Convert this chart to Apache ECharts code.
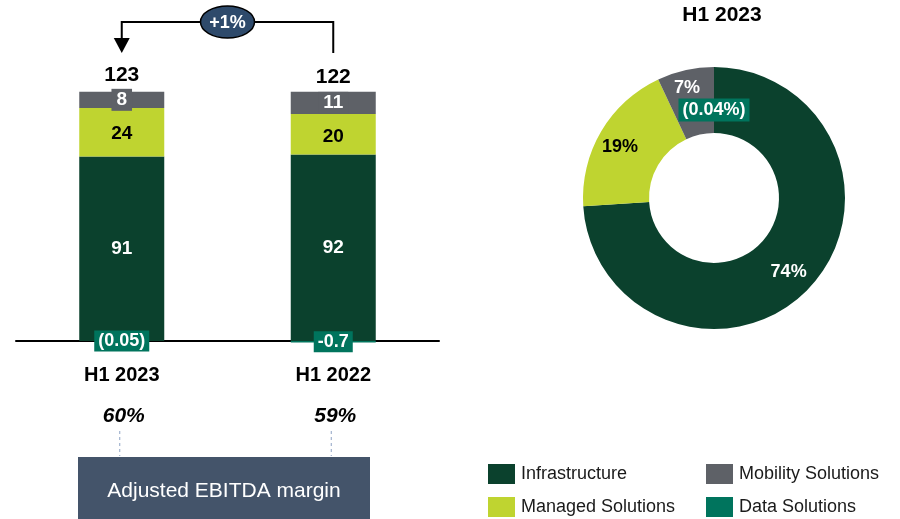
<!DOCTYPE html>
<html>
<head>
<meta charset="utf-8">
<script src="https://cdn.jsdelivr.net/npm/echarts@6/dist/echarts.min.js"></script>
<style>
  html, body { margin: 0; padding: 0; background: #fff; }
  #chart { width: 900px; height: 519px; }
</style>
</head>
<body>
<div id="chart"></div>
<script>
/* EBITDA by segment: stacked bars (H1 2023 vs H1 2022) + H1 2023 mix donut */
const periods      = ["H1 2023", "H1 2022"];
const infra        = [91, 92];
const managed      = [24, 20];
const mobility     = [8, 11];
const dataSol      = [-0.05, -0.7];
const dataLabels   = ["(0.05)", "-0.7"];
const totals       = [123, 122];
const margins      = ["60%", "59%"];
const growthLabel  = "+1%";

const segments     = ["Infrastructure", "Managed Solutions", "Mobility Solutions", "Data Solutions"];
const mixShare     = [74, 19, 7, 0];
const mixLabels    = ["74%", "19%", "7%", "(0.04%)"];

const C = {
  infra: "#0b412d", managed: "#bfd430", mobility: "#5e6167", data: "#00745d",
  ink: "#000", navy: "#44546a", oval: "#2e4a6b", dash: "#8ea3c4",
};
const FONT = "'Liberation Sans', Arial, sans-serif";

const chart = echarts.init(document.getElementById("chart"), null, { renderer: "canvas" });

const segLabel = (color, extra) => Object.assign({
  show: true, position: "inside", color, fontFamily: FONT, fontSize: 19, fontWeight: "bold",
}, extra || {});

// one legend per slot so the 2x2 grid matches the reference
const legendSlots = [[483, 459], [483, 492], [701, 459], [701, 492]];
const legends = segments.map((s, i) => ({
  left: legendSlots[i][0], top: legendSlots[i][1], itemWidth: 27, itemHeight: 20,
  icon: "rect", selectedMode: false, data: [s],
  textStyle: { fontFamily: FONT, fontSize: 18, color: "#1a1a1a", padding: [0, 0, 0, 1] },
}));

chart.setOption({
  animation: false,
  textStyle: { fontFamily: FONT },
  title: {
    text: "H1 2023", left: 717, top: 0, textAlign: "center",
    textStyle: { fontFamily: FONT, fontSize: 21, fontWeight: "bold", color: C.ink },
  },
  grid: { left: 16, width: 423, top: 37, bottom: 176 },
  xAxis: {
    type: "category", data: periods,
    axisLine: { onZero: true, lineStyle: { color: C.ink, width: 2 } },
    axisTick: { show: false },
    axisLabel: { margin: 22, color: C.ink, fontFamily: FONT, fontSize: 20, fontWeight: "bold" },
  },
  yAxis: { type: "value", min: -1, max: 150, show: false, splitLine: { show: false } },
  legend: legends,
  series: [
    { name: segments[0], type: "bar", stack: "ebitda", barWidth: 85, data: infra,
      itemStyle: { color: C.infra }, label: segLabel("#fff") },
    { name: segments[1], type: "bar", stack: "ebitda", data: managed,
      itemStyle: { color: C.managed }, label: segLabel(C.ink, { offset: [0, 2] }) },
    { name: segments[2], type: "bar", stack: "ebitda", data: mobility,
      itemStyle: { color: C.mobility },
      label: segLabel("#fff", { backgroundColor: C.mobility, padding: [2, 5, 1, 5] }) },
    { name: segments[3], type: "bar", stack: "ebitda", data: dataSol,
      itemStyle: { color: C.data },
      label: segLabel("#fff", { fontSize: 18, backgroundColor: C.data, padding: [2, 4, 1, 4],
        formatter: (p) => dataLabels[p.dataIndex] }) },
    { name: "total", type: "scatter", data: totals, symbolSize: 0, silent: true,
      itemStyle: { opacity: 1 },
      label: { show: true, position: "top", distance: 6, color: C.ink, fontFamily: FONT,
        fontSize: 21, fontWeight: "bold" } },
    { name: "mix", type: "pie", center: [714, 198], radius: [65, 131],
      startAngle: 90, clockwise: true, minShowLabelAngle: 0, silent: true,
      label: { position: "inside", fontFamily: FONT, fontSize: 18, fontWeight: "bold" },
      labelLine: { show: false },
      data: segments.map((s, i) => ({
        name: s, value: mixShare[i],
        itemStyle: { color: [C.infra, C.managed, C.mobility, C.data][i] },
        label: Object.assign(
          { formatter: mixLabels[i], color: i === 1 ? C.ink : "#fff" },
          i === 0 ? { offset: [1, 5] } : {},
          i === 1 ? { offset: [-7, 0] } : {},
          i === 2 ? { offset: [-5, -11] } : {},
          i === 3 ? { offset: [0, 13], backgroundColor: C.data, padding: [3, 4, 2, 4] } : {}
        ),
      })),
    },
  ],
});

/* annotations anchored on the bar scale */
const px = periods.map((p, i) => chart.convertToPixel({ seriesIndex: 0 }, [i, totals[i]]));
const xL = px[0][0], xR = px[1][0];
const yTop = 22, yEnd = 53, midX = (xL + xR) / 2;
const graphics = [
  { type: "polyline", shape: { points: [[xR, yEnd], [xR, yTop], [xL, yTop], [xL, yEnd - 14]] },
    style: { stroke: C.ink, lineWidth: 2, fill: null } },
  { type: "polygon", shape: { points: [[xL - 8, yEnd - 15], [xL + 8, yEnd - 15], [xL, yEnd]] },
    style: { fill: C.ink } },
  { type: "ellipse", shape: { cx: midX, cy: yTop, rx: 27, ry: 16 },
    style: { fill: C.oval, stroke: C.ink, lineWidth: 1.5 } },
  { type: "text", x: midX, y: yTop + 1, style: { text: growthLabel, fill: "#fff", font: "bold 18px " + FONT,
    align: "center", verticalAlign: "middle" } },
  { type: "rect", shape: { x: 78, y: 457, width: 292, height: 62 }, style: { fill: C.navy } },
  { type: "text", x: 224, y: 491, style: { text: "Adjusted EBITDA margin", fill: "#fff",
    font: "21px " + FONT, align: "center", verticalAlign: "middle" } },
];
px.forEach((p, i) => {
  graphics.push({ type: "text", x: p[0] + 2, y: 416, style: { text: margins[i], fill: C.ink,
    font: "italic bold 21px " + FONT, align: "center", verticalAlign: "middle" } });
  graphics.push({ type: "line", shape: { x1: p[0] - 2, y1: 431, x2: p[0] - 2, y2: 456 },
    style: { stroke: C.dash, lineWidth: 1, lineDash: [3, 3] } });
});
chart.setOption({ graphic: graphics });
</script>
</body>
</html>
